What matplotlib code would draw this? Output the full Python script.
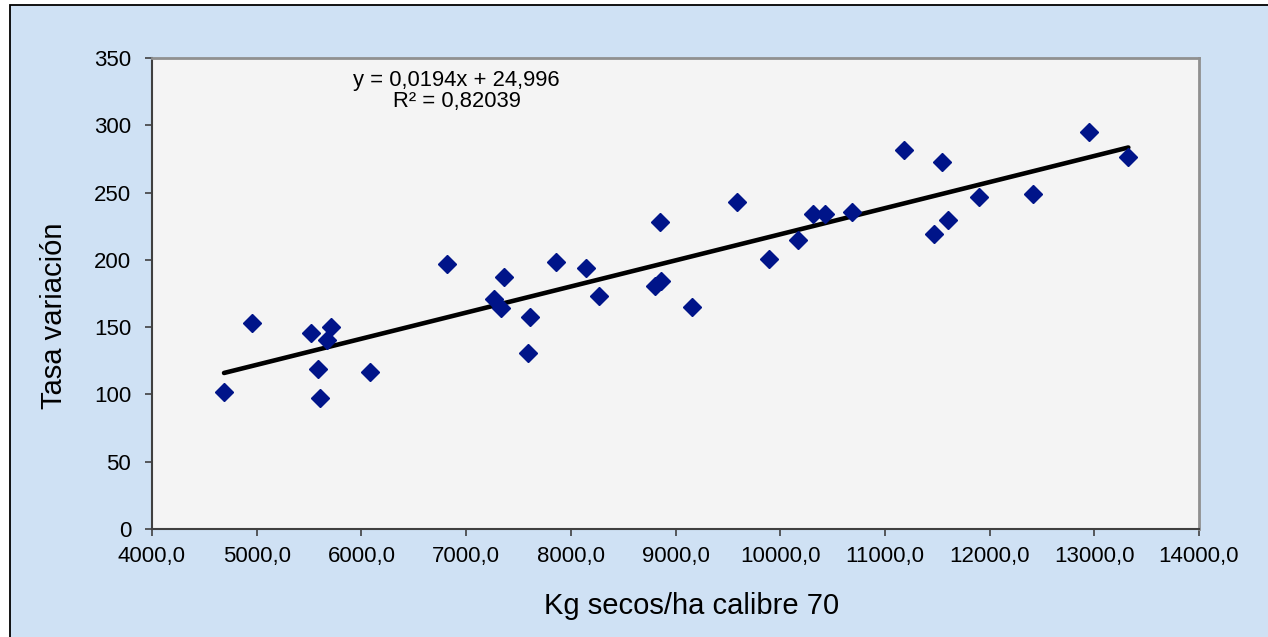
import matplotlib
matplotlib.use("Agg")
import matplotlib.pyplot as plt
import numpy as np
from matplotlib.patches import Rectangle
from matplotlib.ticker import FuncFormatter

plt.rcParams["font.family"] = ["Liberation Sans", "DejaVu Sans"]

# Kg secos/ha calibre 70 vs tasa de variacion
kg_secos = [4688, 4955, 5519, 5710, 5671, 5585, 5605, 6082, 6820, 7269,
            7333, 7365, 7613, 7588, 7856, 8148, 8272, 8804, 8862, 8852,
            9158, 9590, 9893, 10173, 10316, 10428, 10683, 11182, 11469, 11548,
            11605, 11899, 12411, 12949, 13325]
tasa = [101.8, 153.1, 145.6, 150.1, 140.4, 118.9, 97.3, 116.7, 196.9, 170.7,
        164.0, 187.0, 157.3, 130.6, 198.4, 194.2, 173.4, 180.6, 184.1, 228.1,
        164.7, 243.0, 200.4, 214.8, 234.1, 234.1, 235.3, 281.4, 219.0, 272.7,
        229.8, 246.5, 248.9, 295.0, 276.7]

# trend line as reported on the chart
slope = 0.0194
intercept = 24.996
r2 = 0.82039

x_ticks = [4000, 5000, 6000, 7000, 8000, 9000, 10000, 11000, 12000, 13000, 14000]
y_ticks = [0, 50, 100, 150, 200, 250, 300, 350]

W, H = 1268, 637
fig = plt.figure(figsize=(W / 100, H / 100), dpi=100)
fig.patch.set_facecolor("white")
fig.patches.append(Rectangle((10 / W, -0.1), 1.2, 1 - 5 / H + 0.1,
                             transform=fig.transFigure, facecolor="#cfe1f4",
                             edgecolor="black", linewidth=1.3, zorder=-10))

ax = fig.add_axes([152 / W, 1 - 529 / H, (1199 - 152) / W, (529 - 58) / H])
ax.set_zorder(5)
ax.set_facecolor("#f4f4f4")

ax.plot(kg_secos, tasa, linestyle="none", marker="D", markersize=9,
        color="#001489", zorder=3)

xl = np.array([min(kg_secos), max(kg_secos)])
ax.plot(xl, slope * xl + intercept, color="black", linewidth=3.3,
        solid_capstyle="round", zorder=2)

ax.set_xlim(4000, 14000)
ax.set_ylim(0, 350)
ax.set_xticks(x_ticks)
ax.set_yticks(y_ticks)
ax.xaxis.set_major_formatter(FuncFormatter(lambda v, p: f"{v:.1f}".replace(".", ",")))
ax.tick_params(axis="both", labelsize=16, color="#404040", direction="out")
ax.tick_params(axis="y", length=5, width=1.2, pad=10)
ax.tick_params(axis="x", length=5, width=1.2, pad=7)

for side in ["left", "bottom"]:
    ax.spines[side].set_color("#404040")
    ax.spines[side].set_linewidth(1.5)
for side in ["top", "right"]:
    ax.spines[side].set_color("#909090")
    ax.spines[side].set_linewidth(2)

ax.text(0.291, 0.930,
        f"y = {slope:.4f}x + {intercept:.3f}".replace(".", ",") + "\n"
        + f"R² = {r2:.5f}".replace(".", ","),
        transform=ax.transAxes, ha="center", va="center",
        multialignment="center", fontsize=15.8, linespacing=1.0)

fig.text(692 / W, 1 - 606 / H, "Kg secos/ha calibre 70", fontsize=21,
         ha="center", va="center", zorder=6)
fig.text(54 / W, 1 - 316 / H, "Tasa variación", fontsize=21,
         rotation=90, ha="center", va="center", zorder=6)

fig.savefig("out.png", dpi=100)
